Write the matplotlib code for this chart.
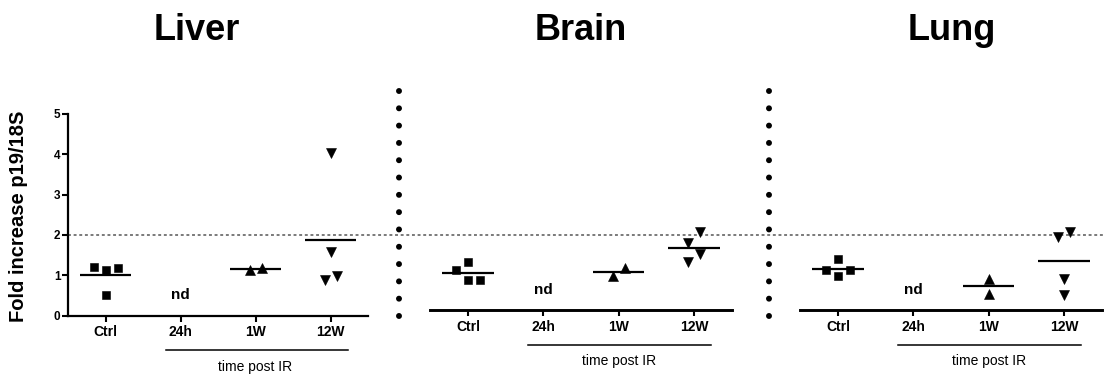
import matplotlib
matplotlib.use('Agg')
import matplotlib.pyplot as plt
import matplotlib.transforms as mtransforms
from matplotlib.lines import Line2D
import numpy as np

plt.rcParams['font.family'] = ['Liberation Sans', 'DejaVu Sans']

W, H = 1104, 380

groups = ['Ctrl', '24h', '1W', '12W']
tissues = ['Liver', 'Brain', 'Lung']

# fold increase p19/18S (24h = not detected)
liver_ctrl = [1.18, 1.12, 1.21, 0.50]
liver_1w = [1.13, 1.18]
liver_12w = [4.04, 1.57, 0.87, 0.99]
brain_ctrl = [1.14, 1.32, 0.87, 0.87]
brain_1w = [0.97, 1.19]
brain_12w = [2.06, 1.81, 1.53, 1.32]
lung_ctrl = [1.12, 1.39, 0.99, 1.12]
lung_1w = [0.91, 0.53]
lung_12w = [1.96, 2.06, 0.91, 0.50]

threshold = 2.0
markers = ['s', None, '^', 'v']

data = {
    'Liver': [liver_ctrl, None, liver_1w, liver_12w],
    'Brain': [brain_ctrl, None, brain_1w, brain_12w],
    'Lung': [lung_ctrl, None, lung_1w, lung_12w],
}


def swarm(vals, thr=0.3, step=0.16):
    # prism-like column scatter: push overlapping points sideways, then recentre
    order = sorted(range(len(vals)), key=lambda i: vals[i])
    slot = {}
    for i in order:
        near = [j for j in slot if abs(vals[j] - vals[i]) < thr]
        for c in [0, 1, -1, 2, -2, 3, -3]:
            if all(abs(slot[j] - c) >= 1 for j in near):
                slot[i] = c
                break
    chains = [[order[0]]]
    for a, b in zip(order, order[1:]):
        if vals[b] - vals[a] < thr:
            chains[-1].append(b)
        else:
            chains.append([b])
    for ch in chains:
        s = [slot[i] for i in ch]
        mid = (min(s) + max(s)) / 2
        for i in ch:
            slot[i] -= mid
    return [slot[i] * step for i in range(len(vals))]


def box(left, right, top, bottom):
    return [left / W, 1 - bottom / H, (right - left) / W, (bottom - top) / H]


fig = plt.figure(figsize=(W / 100, H / 100), dpi=100)

panels = {
    'Liver': box(68, 368, 114, 315.5),
    'Brain': box(430.4, 731.6, 114, 315.5),
    'Lung': box(800.4, 1101.6, 114, 315.5),
}
title_x = {'Liver': 197, 'Brain': 581, 'Lung': 952}
px = 72 / 100  # points per pixel

for name in tissues:
    ax = fig.add_axes(panels[name])
    ax.set_xlim(-0.5, 3.5)
    ax.set_ylim(0, 5)
    ax.spines['top'].set_visible(False)
    ax.spines['right'].set_visible(False)
    ax.set_facecolor('none')

    if name == 'Liver':
        lift = 0
        ax.spines['left'].set_linewidth(1.6)
        ax.spines['bottom'].set_linewidth(1.6)
        ax.set_yticks(range(6))
        ax.tick_params(axis='y', length=6 * px, width=1.5, pad=1, labelsize=8.5)
        for lab in ax.get_yticklabels():
            lab.set_fontweight('bold')
        # reference line, carried across all three panels
        ax.axhline(threshold, xmin=0, xmax=(W - 68) / 300, color='#7a7a7a', lw=1.4,
                   linestyle=(0, (1.5, 1.4)), clip_on=False, zorder=0)
    else:
        lift = 5.5
        ax.spines['left'].set_visible(False)
        ax.spines['bottom'].set_linewidth(2.1)
        ax.spines['bottom'].set_position(('outward', -lift * px))
        ax.set_yticks([])

    ax.set_xticks(range(len(groups)))
    ax.set_xticklabels(groups, fontweight='bold')
    ax.tick_params(axis='x', length=6 * px, width=1.5, pad=4 * px, labelsize=10)

    for i, vals in enumerate(data[name]):
        if vals is None:
            ax.annotate('nd', xy=(i, 0), xytext=(0, (20.5 + lift) * px),
                        textcoords='offset points', ha='center', va='center',
                        fontsize=11, fontweight='bold')
            continue
        offs = swarm(vals)
        ms = 6.0 if markers[i] == 's' else 6.8
        ax.plot(np.array(offs) + i, vals, linestyle='none', marker=markers[i],
                ms=ms, mew=0.4, color='black', clip_on=False, zorder=3)
        ax.hlines(np.mean(vals), i - 0.34, i + 0.34, color='black', lw=1.6, zorder=2)

    # "time post IR" bracket under the irradiated groups
    tr = mtransforms.blended_transform_factory(ax.transData, ax.transAxes)
    shift = mtransforms.ScaledTranslation(0, -(34.5 - lift) / 100, fig.dpi_scale_trans)
    ax.add_line(Line2D([0.8, 3.23], [0, 0], transform=tr + shift, color='black',
                       lw=1.1, clip_on=False))
    shift2 = mtransforms.ScaledTranslation(0, -(44.5 - lift) / 100, fig.dpi_scale_trans)
    ax.text(2, 0, 'time post IR', transform=tr + shift2, ha='center', va='top',
            fontsize=10)

    fig.text(title_x[name] / W, 1 - 40 / H, name, ha='center', va='baseline',
             fontsize=26, fontweight='bold')

fig.text(19 / W, 1 - 216 / H, 'Fold increase p19/18S', rotation=90,
         ha='center', va='center', fontsize=14.5, fontweight='bold')

# dotted separators between the panels
for sx in [399, 769]:
    fig.add_artist(Line2D([sx / W, sx / W], [1 - 91 / H, 1 - 316 / H], color='black',
                          lw=6 * px, linestyle=(0, (0.001, 17.3 / 6)),
                          dash_capstyle='round'))

fig.savefig('out.png', dpi=100)
